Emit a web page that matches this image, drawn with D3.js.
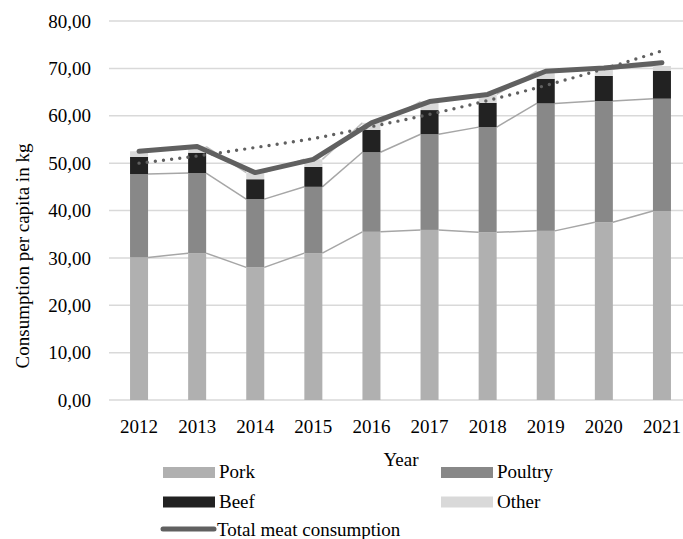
<!DOCTYPE html>
<html>
<head>
<meta charset="utf-8">
<script src="https://cdn.jsdelivr.net/npm/d3@7"></script>
<style>
  html, body { margin: 0; padding: 0; background: #fff; }
  svg { display: block; }
  text { font-family: "Liberation Serif", "Times New Roman", serif; fill: #000; }
</style>
</head>
<body>
<svg id="chart" width="683" height="539"></svg>
<script>
// Per-capita meat consumption (kg), by year and type
const years   = ["2012","2013","2014","2015","2016","2017","2018","2019","2020","2021"];
const pork    = [30.1, 31.0, 28.0, 31.0, 35.5, 35.9, 35.4, 35.7, 37.5, 39.9];
const poultry = [17.6, 16.9, 14.4, 14.0, 16.8, 20.2, 22.2, 26.9, 25.6, 23.7];
const beef    = [3.6, 4.3, 4.2, 4.2, 4.7, 5.1, 5.1, 5.2, 5.3, 5.9];
const other   = [1.2, 1.3, 1.4, 1.6, 1.5, 1.8, 1.8, 1.6, 1.5, 1.0];
const total   = [52.5, 53.5, 48.0, 50.8, 58.5, 63.0, 64.5, 69.4, 70.1, 71.2];
// Polynomial trend of total consumption, value at each year
const trend   = [50.0, 51.5, 53.3, 55.2, 57.7, 60.3, 63.2, 66.4, 69.9, 73.7];
const yTicks  = [0, 10, 20, 30, 40, 50, 60, 70, 80];

const seriesNames  = ["Pork", "Poultry", "Beef", "Other"];
const seriesColors = ["#b0b0b0", "#888888", "#222222", "#d9d9d9"];

const svg = d3.select("#chart");

const x = d3.scaleBand().domain(years).range([110, 691])
  .paddingInner(0.69).paddingOuter(0.345);
const y = d3.scaleLinear().domain([0, 80]).range([400, 21]);

const fmt = v => d3.format(".2f")(v).replace(".", ",");

// Gridlines
svg.append("g").selectAll("line").data(yTicks).join("line")
  .attr("x1", 109).attr("x2", 683)
  .attr("y1", d => y(d)).attr("y2", d => y(d))
  .attr("stroke", "#d9d9d9").attr("stroke-width", 1.5);

// Y axis labels
svg.append("g").selectAll("text").data(yTicks).join("text")
  .attr("x", 91).attr("y", d => y(d)).attr("dy", "0.35em")
  .attr("text-anchor", "end").attr("font-size", 19)
  .text(fmt);

// X axis labels
svg.append("g").selectAll("text").data(years).join("text")
  .attr("x", d => x(d) + x.bandwidth() / 2).attr("y", 433)
  .attr("text-anchor", "middle").attr("font-size", 19)
  .text(d => d);

// Stack the four meat types
const rows = years.map((yr, i) => ({ year: yr, Pork: pork[i], Poultry: poultry[i], Beef: beef[i], Other: other[i] }));
const stacked = d3.stack().keys(seriesNames)(rows);

// Series connector lines between adjacent bars (Pork, Poultry, Other tops)
const connectorKeys = [0, 1, 3];
connectorKeys.forEach(k => {
  const layer = stacked[k];
  const segs = d3.pairs(layer.map((d, i) => ({ yr: years[i], v: d[1] })));
  svg.append("g").selectAll("line").data(segs).join("line")
    .attr("x1", d => x(d[0].yr) + x.bandwidth())
    .attr("y1", d => y(d[0].v))
    .attr("x2", d => x(d[1].yr))
    .attr("y2", d => y(d[1].v))
    .attr("stroke", k === 3 ? "#bdbdbd" : "#a6a6a6")
    .attr("stroke-width", 1.5);
});

// Bars
svg.append("g").selectAll("g").data(stacked).join("g")
  .attr("fill", (d, i) => seriesColors[i])
  .selectAll("rect").data(d => d).join("rect")
  .attr("x", d => x(d.data.year))
  .attr("width", x.bandwidth())
  .attr("y", d => y(d[1]))
  .attr("height", d => y(d[0]) - y(d[1]));

// Total consumption line
const cx = yr => x(yr) + x.bandwidth() / 2;
svg.append("path")
  .datum(total)
  .attr("d", d3.line().x((d, i) => cx(years[i])).y(d => y(d)))
  .attr("fill", "none").attr("stroke", "#606060").attr("stroke-width", 5)
  .attr("stroke-linecap", "round").attr("stroke-linejoin", "round");

// Trend (dotted curve)
svg.append("path")
  .datum(trend)
  .attr("d", d3.line().curve(d3.curveMonotoneX).x((d, i) => cx(years[i])).y(d => y(d)))
  .attr("fill", "none").attr("stroke", "#606060").attr("stroke-width", 3.4)
  .attr("stroke-linecap", "round").attr("stroke-dasharray", "0 8.2");

// Axis titles
svg.append("text")
  .attr("transform", "translate(29,256) rotate(-90)")
  .attr("text-anchor", "middle").attr("font-size", 19)
  .text("Consumption per capita in kg");

svg.append("text")
  .attr("x", 401).attr("y", 466)
  .attr("text-anchor", "middle").attr("font-size", 19)
  .text("Year");

// Legend
const legendItems = [
  { name: "Pork",    color: seriesColors[0], x: 163, y: 467 },
  { name: "Poultry", color: seriesColors[1], x: 441, y: 467 },
  { name: "Beef",    color: seriesColors[2], x: 163, y: 496.5 },
  { name: "Other",   color: seriesColors[3], x: 441, y: 496.5 }
];
const lg = svg.append("g");
legendItems.forEach(it => {
  lg.append("rect").attr("x", it.x).attr("y", it.y).attr("width", 52).attr("height", 11)
    .attr("fill", it.color);
  lg.append("text").attr("x", it.x + 56).attr("y", it.y + 11).attr("font-size", 19).text(it.name);
});
lg.append("line").attr("x1", 163).attr("x2", 214).attr("y1", 529).attr("y2", 529)
  .attr("stroke", "#606060").attr("stroke-width", 5).attr("stroke-linecap", "round");
lg.append("text").attr("x", 217).attr("y", 535.5).attr("font-size", 19).text("Total meat consumption");
</script>
</body>
</html>
